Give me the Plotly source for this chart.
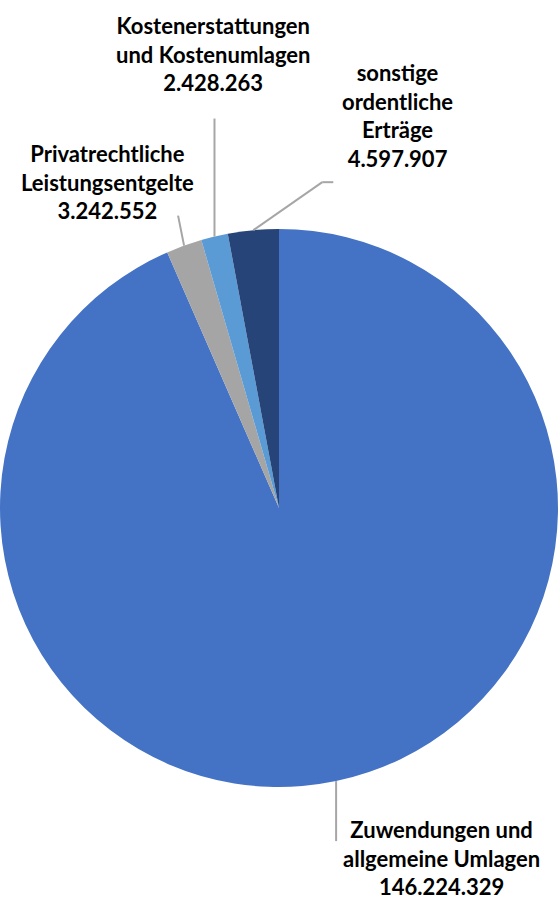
import math
import plotly.graph_objects as go

labels = ["Zuwendungen und<br>allgemeine Umlagen", "Privatrechtliche<br>Leistungsentgelte",
          "Kostenerstattungen<br>und Kostenumlagen", "sonstige<br>ordentliche<br>Erträge"]
values = [146224329, 3242552, 2428263, 4597907]
value_text = ["146.224.329", "3.242.552", "2.428.263", "4.597.907"]
colors = ["#4472C4", "#A5A5A5", "#5B9BD5", "#264478"]

W, H = 560, 900
CX, CY, R = 279, 508, 279
# leader line end offsets (px, relative to slice edge point) and label centre offsets
line_ends = [[(0, 60)], [(-6, -30)], [(0, -118)], [(69, -48), (80, -48)]]
label_pos = [(441, 858), (107, 182), (213, 54), (397, 116)]

fig = go.Figure(go.Pie(
    labels=[l.replace("<br>", " ") for l in labels], values=values, sort=False,
    direction="clockwise", rotation=0, textinfo="none", hoverinfo="label+value",
    marker=dict(colors=colors, line=dict(width=0)),
    domain=dict(x=[(CX - R) / W, (CX + R) / W], y=[1 - (CY + R) / H, 1 - (CY - R) / H]),
    showlegend=False,
))

def px2paper(x, y):
    return x / W, 1 - y / H

total = sum(values)
cum = 0
shapes, annotations = [], []
for i, v in enumerate(values):
    mid = (cum + v / 2) / total * 2 * math.pi
    cum += v
    ex = CX + R * math.sin(mid)
    ey = CY - R * math.cos(mid)
    pts = [(ex, ey)] + [(ex + dx, ey + dy) for dx, dy in line_ends[i]]
    for (x0, y0), (x1, y1) in zip(pts[:-1], pts[1:]):
        a0, b0 = px2paper(x0, y0)
        a1, b1 = px2paper(x1, y1)
        shapes.append(dict(type="line", xref="paper", yref="paper", x0=a0, y0=b0, x1=a1, y1=b1,
                           line=dict(color="#A6A6A6", width=2)))
    lx, ly = px2paper(*label_pos[i])
    annotations.append(dict(xref="paper", yref="paper", x=lx, y=ly, showarrow=False,
                            xanchor="center", yanchor="middle", align="center",
                            text="<b>" + labels[i] + "<br>" + value_text[i] + "</b>",
                            font=dict(family="Lato", size=22, color="#000000")))

fig.update_layout(width=W, height=H, margin=dict(l=0, r=0, t=0, b=0),
                  paper_bgcolor="white", plot_bgcolor="white",
                  shapes=shapes, annotations=annotations)
fig.write_html("out.html", config={"displayModeBar": False},
               post_script="document.body.style.margin='0';")
